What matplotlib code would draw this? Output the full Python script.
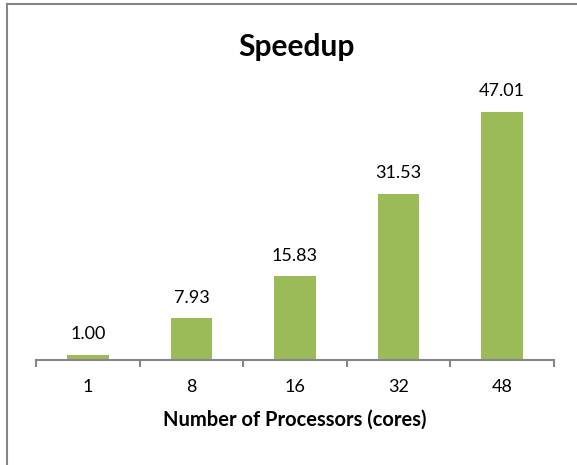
import matplotlib
matplotlib.use("Agg")
import matplotlib.pyplot as plt
from matplotlib.lines import Line2D
import numpy as np

cores = ["1", "8", "16", "32", "48"]
speedup = [1.00, 7.93, 15.83, 31.53, 47.01]

plt.rcParams['font.family'] = ['Lato', 'DejaVu Sans']

W, H = 577, 465
fig = plt.figure(figsize=(W / 100, H / 100), dpi=100)

ax = fig.add_axes([36 / W, 105 / H, (554 - 36) / W, (360 - 96) / H])
x = np.arange(len(cores))
bars = ax.bar(x, speedup, width=0.4, color="#9BBB59", zorder=2)

for xi, v in zip(x, speedup):
    ax.annotate(f"{v:.2f}", (xi, v), xytext=(0, 9), textcoords="offset points",
                ha="center", va="bottom", fontsize=13, color="#000000")

ax.set_xlim(-0.5, len(cores) - 0.5)
ax.set_ylim(0, 50)
ax.set_yticks([])
for s in ("left", "right", "top"):
    ax.spines[s].set_visible(False)
ax.spines["bottom"].set_color("#868686")
ax.spines["bottom"].set_linewidth(1.5)

ax.set_xticks(x)
ax.set_xticklabels(cores, fontsize=13)
ax.tick_params(axis="x", which="major", length=0, pad=14)
ax.set_xticks(np.arange(len(cores) + 1) - 0.5, minor=True)
ax.tick_params(axis="x", which="minor", length=5, width=1.5, color="#868686", direction="out")

ax.set_xlabel("Number of Processors (cores)", fontsize=14.5, fontweight="bold", labelpad=10)

fig.text(296 / W, 1 - 47 / H, "Speedup", ha="center", va="center",
         fontsize=21.5, fontweight="bold")

# chart frame edges
fig.add_artist(Line2D([7 / W, 7 / W], [0, 1 - 4 / H], transform=fig.transFigure,
                      color="#868686", linewidth=1.5))
fig.add_artist(Line2D([7 / W, 1], [1 - 4 / H, 1 - 4 / H], transform=fig.transFigure,
                      color="#868686", linewidth=1.5))

fig.savefig("out.png", dpi=100)
